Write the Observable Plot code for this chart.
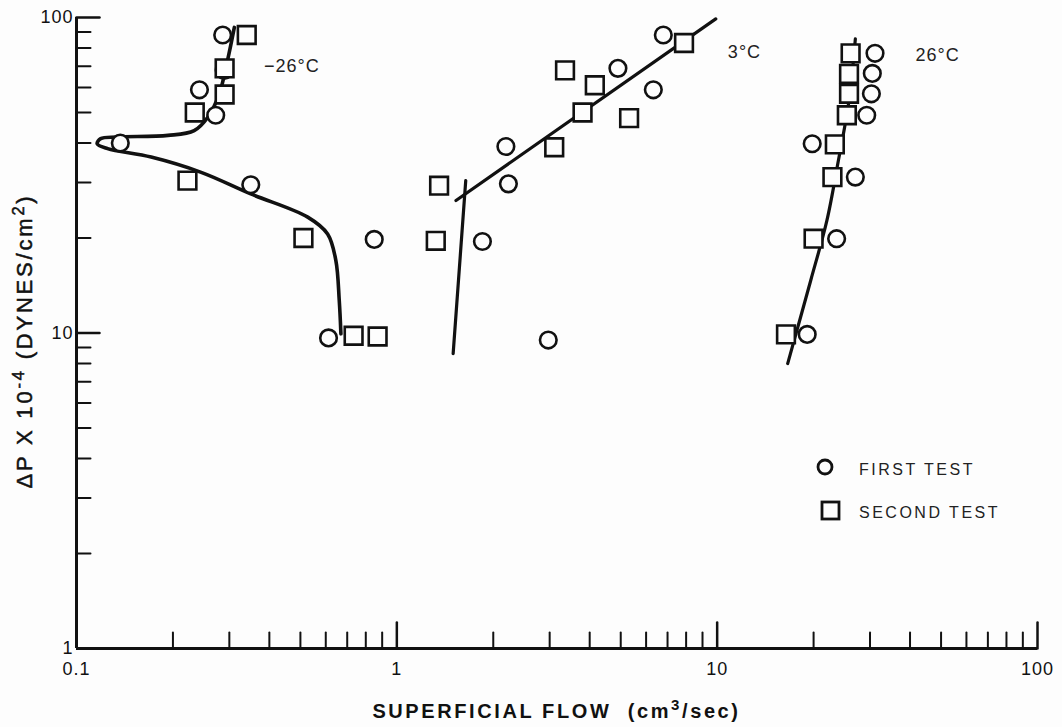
<!DOCTYPE html>
<html><head><meta charset="utf-8">
<script src="https://cdn.jsdelivr.net/npm/d3@7"></script>
<script src="https://cdn.jsdelivr.net/npm/@observablehq/plot@0.6"></script>
<style>
html,body{margin:0;padding:0;background:#fdfdfd;}
#chart{position:relative;width:1062px;height:727px;}
#legend{position:absolute;left:800px;top:445px;}
</style></head><body><div id="chart"><div id="legend"></div></div>
<script>
// ---- data (flow cm3/sec, ΔP x10^-4 dynes/cm2) ----
const firstM26  = [[0.286,88],[0.289,68],[0.242,59],[0.272,49],[0.137,40],[0.35,29.5],[0.85,19.8],[0.612,9.65]];
const secondM26 = [[0.34,88],[0.29,69],[0.29,57],[0.234,50],[0.222,30.4],[0.511,20],[0.733,9.8],[0.871,9.75]];
const first3    = [[6.79,88],[4.9,69],[6.32,59],[2.19,39],[2.23,29.7],[1.85,19.5],[2.97,9.5]];
const second3   = [[7.88,83],[3.35,68],[4.15,61],[3.8,50],[5.31,48],[3.1,38.8],[1.355,29.3],[1.323,19.6]];
const first26   = [[31.1,77],[30.5,66.5],[30.3,57.3],[29.3,49],[19.8,39.8],[27.0,31.2],[23.6,19.9],[19.1,9.9]];
const second26  = [[26.1,77],[25.8,66.3],[25.8,57.3],[25.4,49],[23.3,39.6],[22.9,31.2],[20,19.9],[16.4,9.9]];

const fitM26    = [[0.311,93],[0.296,73],[0.279,57.3],[0.257,48.3],[0.233,43.8],[0.193,42.3],[0.134,41.8],[0.119,41.3],[0.116,39.8],[0.125,38.4],[0.171,36.1],[0.245,32.3],[0.35,27.6],[0.527,23.3],[0.608,20.6],[0.645,17],[0.661,12.7],[0.669,9.94]];
const fit3Diag  = [[1.53,26.3],[9.9,99]];
const fit3Steep = [[1.641,30.4],[1.499,8.6]];
const fit26     = [[27.0,85.6],[25.8,54.6],[23.9,35.2],[22.0,22.7],[19.6,14.7],[16.6,8.0]];

const tempLabels = [{label:"−26°C", flow:0.385, dp:70},{label:"3°C", flow:10.8, dp:77.5},{label:"26°C", flow:41.6, dp:75.8}];

const xTickLabels = [0.1, 1, 10, 100];
const yTickLabels = [1, 10, 100];
const xMajorTicks = [1, 10, 100];
const xMinorTicks = [0.2,0.3,0.4,0.5,0.6,0.7,0.8,0.9,2,3,4,5,6,7,8,9,20,30,40,50,60,70,80,90];
const yMajorTicks = [10, 100];
const yMinorTicks = [2,3,4,5,6,7,8,9,20,30,40,50,60,70,80,90];

// title pieces: [text, isSuperscript]
const xTitleParts = [["SUPERFICIAL FLOW  (cm", false], ["3", true], ["/sec)", false]];
const yTitleParts = [["ΔP X 10", false], ["-4", true], [" (DYNES/cm", false], ["2", true], [")", false]];
const legendItems = ["FIRST TEST", "SECOND TEST"];

// ---- chart ----
const ink = "#111";
const font = "'Liberation Sans', Arial, sans-serif";
const W = 1062, H = 727, mL = 76, mR = 25, mT = 17, mB = 79;
const tickShape = {draw(context, l) { context.moveTo(0, 0); context.lineTo(0, -l); }};
const lineOpts = {x: d => d[0], y: d => d[1], stroke: ink, strokeWidth: 3.2, curve: "catmull-rom", strokeLinecap: "round"};
const circ = {x: d => d[0], y: d => d[1], r: 8.3, symbol: "circle", stroke: ink, strokeWidth: 2.6, fill: "#fdfdfd"};
const sq = {x: d => d[0], y: d => d[1], r: 10, symbol: "square", stroke: ink, strokeWidth: 2.6, fill: "#fdfdfd"};

const plot = Plot.plot({
  width: W, height: H,
  marginLeft: mL, marginRight: mR, marginTop: mT, marginBottom: mB,
  style: {fontFamily: font, fontSize: "18px", color: ink, background: "transparent", letterSpacing: "1px"},
  x: {type: "log", domain: [0.1, 100], axis: null},
  y: {type: "log", domain: [1, 100], axis: null},
  marks: [
    Plot.ruleY([1], {x1: 0.1, x2: 100, stroke: ink, strokeWidth: 3}),
    Plot.ruleX([0.1], {y1: 1, y2: 100, stroke: ink, strokeWidth: 3}),
    Plot.vector(xMinorTicks, {x: d => d, frameAnchor: "bottom", length: 16, anchor: "start", shape: tickShape, stroke: ink, strokeWidth: 2}),
    Plot.vector(xMajorTicks, {x: d => d, frameAnchor: "bottom", length: 26, anchor: "start", shape: tickShape, stroke: ink, strokeWidth: 2.5}),
    Plot.vector(yMinorTicks, {y: d => d, frameAnchor: "left", rotate: 90, length: 14, anchor: "start", shape: tickShape, stroke: ink, strokeWidth: 2}),
    Plot.vector(yMajorTicks, {y: d => d, frameAnchor: "left", rotate: 90, length: 23, anchor: "start", shape: tickShape, stroke: ink, strokeWidth: 2.5}),
    Plot.axisX(xTickLabels, {tickSize: 0, tickPadding: 14, tickFormat: d => String(d), label: null, fontSize: 18}),
    Plot.axisY(yTickLabels, {tickSize: 0, tickPadding: 3, tickFormat: d => String(d), label: null, fontSize: 18}),
    Plot.line(fitM26, {...lineOpts, strokeWidth: 3.6}),
    Plot.line(fit3Diag, lineOpts),
    Plot.line(fit3Steep, lineOpts),
    Plot.line(fit26, lineOpts),
    Plot.dot(firstM26, circ), Plot.dot(secondM26, sq),
    Plot.dot(first3, circ), Plot.dot(second3, sq),
    Plot.dot(first26, circ), Plot.dot(second26, sq),
    Plot.text(tempLabels, {x: "flow", y: "dp", text: "label", textAnchor: "start", fontSize: 18, fill: "#222"})
  ]
});
document.getElementById("chart").prepend(plot);

// ---- axis titles with real superscripts ----
function addTitle(svg, parts, attrs) {
  const t = svg.append("text").attr("font-family", font).attr("fill", ink).attr("text-anchor", "middle");
  for (const [k, v] of Object.entries(attrs)) t.attr(k, v);
  let up = false;
  for (const [s, sup] of parts) {
    const ts = t.append("tspan").text(s);
    if (sup && !up) { ts.attr("dy", -8).attr("font-size", "0.75em"); up = true; }
    else if (!sup && up) { ts.attr("dy", 8); up = false; }
  }
}
const svg = d3.select(plot);
addTitle(svg, xTitleParts, {x: (mL + W - mR) / 2, y: 718, "font-size": 20, "font-weight": "bold", "letter-spacing": "2.6px"});
addTitle(svg, yTitleParts, {transform: "translate(32,341) rotate(-90)", "font-size": 22, "letter-spacing": "2.8px", stroke: ink, "stroke-width": 0.5});

// ---- legend (inside plot area) ----
const lg = d3.select("#legend").append("svg").attr("width", 240).attr("height", 90)
  .style("font-family", font).style("font-size", "16px").style("letter-spacing", "2.5px");
lg.append("circle").attr("cx", 25).attr("cy", 22).attr("r", 7).attr("fill", "none").attr("stroke", ink).attr("stroke-width", 2.8);
lg.append("rect").attr("x", 22).attr("y", 57).attr("width", 17).attr("height", 17).attr("fill", "none").attr("stroke", ink).attr("stroke-width", 2.8);
lg.selectAll("text").data(legendItems).join("text")
  .attr("x", 59).attr("y", (d, i) => i ? 73 : 30).attr("fill", "#222").text(d => d);
</script></body></html>
